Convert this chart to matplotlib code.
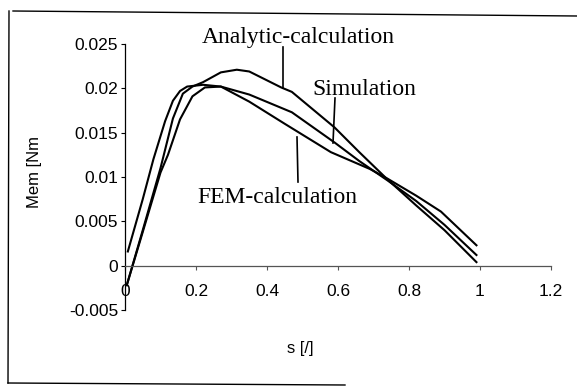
import matplotlib
matplotlib.use("Agg")
import matplotlib.pyplot as plt
from matplotlib.lines import Line2D

# ---- data ----
s_analytic = [0.005, 0.05, 0.10, 0.135, 0.163, 0.19, 0.22, 0.27, 0.315, 0.35, 0.44, 0.47, 0.59, 0.66, 0.74, 0.82, 0.90, 0.99]
m_analytic = [-0.0022, 0.0040, 0.0110, 0.0166, 0.0194, 0.0202, 0.0207, 0.0218, 0.0221, 0.0219, 0.0201, 0.0196, 0.0156, 0.0128, 0.0097, 0.0068, 0.0040, 0.0004]

s_simulation = [0.005, 0.05, 0.10, 0.121, 0.155, 0.19, 0.225, 0.27, 0.35, 0.47, 0.59, 0.66, 0.74, 0.82, 0.90, 0.99]
m_simulation = [-0.0022, 0.0038, 0.0105, 0.0125, 0.0165, 0.0191, 0.0201, 0.0202, 0.0193, 0.0173, 0.0139, 0.0118, 0.0096, 0.0073, 0.0046, 0.0012]

s_fem = [0.008, 0.05, 0.08, 0.113, 0.135, 0.155, 0.175, 0.22, 0.27, 0.35, 0.45, 0.58, 0.69, 0.74, 0.82, 0.89, 0.99]
m_fem = [0.0016, 0.0075, 0.0120, 0.0163, 0.0186, 0.0197, 0.0202, 0.0204, 0.0202, 0.0185, 0.0160, 0.0128, 0.0109, 0.0098, 0.0079, 0.0061, 0.0023]

x_ticks = [0, 0.2, 0.4, 0.6, 0.8, 1, 1.2]
x_ticklabels = ["0", "0.2", "0.4", "0.6", "0.8", "1", "1.2"]
y_ticks = [-0.005, 0, 0.005, 0.01, 0.015, 0.02, 0.025]
y_ticklabels = ["-0.005", "0", "0.005", "0.01", "0.015", "0.02", "0.025"]

W, H = 577, 390
fig = plt.figure(figsize=(W / 100, H / 100), dpi=100)
fig.patch.set_facecolor("white")

def fx(px):
    return px / W

def fy(py):
    return 1 - py / H

ax = fig.add_axes([fx(125), fy(310), fx(551) - fx(125), fy(44) - fy(310)])
ax.set_xlim(0, 1.2)
ax.set_ylim(-0.005, 0.025)

for s, m in [(s_analytic, m_analytic), (s_simulation, m_simulation), (s_fem, m_fem)]:
    ax.plot(s, m, color="black", lw=1.5, solid_joinstyle="round")

ax.spines["top"].set_visible(False)
ax.spines["right"].set_visible(False)
ax.spines["bottom"].set_position(("data", 0))
ax.spines["bottom"].set_color("#555555")
ax.spines["bottom"].set_linewidth(0.9)
ax.spines["left"].set_linewidth(0.9)

sans = ["Liberation Sans", "DejaVu Sans"]
serif = ["Liberation Serif", "DejaVu Serif"]

ax.set_xticks(x_ticks)
ax.set_xticklabels(x_ticklabels, fontsize=12.5, family=sans)
ax.set_yticks(y_ticks)
ax.set_yticklabels(y_ticklabels, fontsize=12.5, family=sans)
ax.tick_params(axis="x", direction="out", length=3, width=0.8, pad=10, color="#555555")
ax.tick_params(axis="y", direction="out", length=3, width=0.8, pad=2)

# axis titles
fig.text(fx(34), fy(172), "Mem [Nm", rotation=90, ha="center", va="center",
         fontsize=12, family=sans)
fig.text(fx(300), fy(349), "s [/]", ha="center", va="center", fontsize=12, family=sans)

# curve labels
fig.text(fx(298), fy(43), "Analytic-calculation", ha="center", va="baseline",
         fontsize=17, family=serif)
fig.text(fx(364), fy(95), "Simulation", ha="center", va="baseline",
         fontsize=17, family=serif)
fig.text(fx(277), fy(203), "FEM-calculation", ha="center", va="baseline",
         fontsize=17, family=serif)

# leader lines
for (x0, y0, x1, y1) in [(283, 47, 283, 88), (335, 98, 333, 143), (297, 137, 298, 182)]:
    fig.add_artist(Line2D([fx(x0), fx(x1)], [fy(y0), fy(y1)], color="black", lw=1.2))

# outer frame (scanned, right edge missing)
fig.add_artist(Line2D([fx(13), fx(577)], [fy(11), fy(16)], color="black", lw=1.0))
fig.add_artist(Line2D([fx(9), fx(8)], [fy(11), fy(383)], color="black", lw=1.0))
fig.add_artist(Line2D([fx(8), fx(345)], [fy(383), fy(385)], color="black", lw=1.0))

fig.savefig("out.png", dpi=100)
